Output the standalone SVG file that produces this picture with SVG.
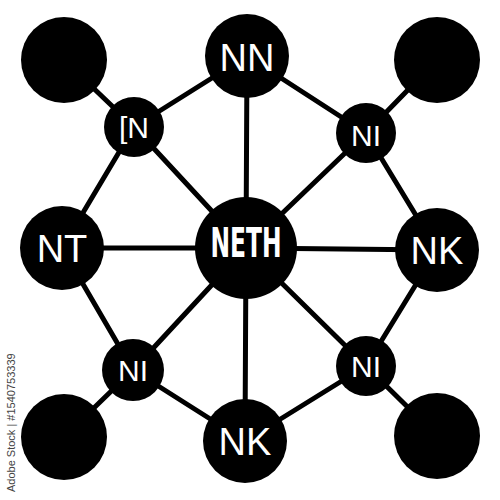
<svg xmlns="http://www.w3.org/2000/svg" width="500" height="500" viewBox="0 0 500 500">
<style>
.edge{stroke:#000;stroke-width:5;stroke-linecap:round}
.node{fill:#000}
.lbl{fill:#fff;font-family:"Liberation Sans",Arial,sans-serif;text-anchor:middle}
.big{font-size:38px}
.small{font-size:30px}
.hub{font-family:"DejaVu Sans Condensed","DejaVu Sans",sans-serif;font-weight:bold;font-stretch:condensed;font-size:40px}
.wm{fill:#444;font-family:"Liberation Sans",Arial,sans-serif;font-size:11px}
</style>
<rect width="500" height="500" fill="#fff"/>
<g id="connectors">
<line class="edge" x1="64" y1="60" x2="134" y2="127"/>
<line class="edge" x1="134" y1="127" x2="247" y2="56"/>
<line class="edge" x1="134" y1="127" x2="62" y2="248"/>
<line class="edge" x1="134" y1="127" x2="246" y2="248"/>
<line class="edge" x1="247" y1="56" x2="246" y2="248"/>
<line class="edge" x1="247" y1="56" x2="366" y2="133"/>
<line class="edge" x1="366" y1="133" x2="437" y2="60"/>
<line class="edge" x1="366" y1="133" x2="246" y2="248"/>
<line class="edge" x1="366" y1="133" x2="437" y2="250"/>
<line class="edge" x1="62" y1="248" x2="246" y2="248"/>
<line class="edge" x1="246" y1="248" x2="437" y2="250"/>
<line class="edge" x1="62" y1="248" x2="133" y2="370"/>
<line class="edge" x1="133" y1="370" x2="246" y2="248"/>
<line class="edge" x1="133" y1="370" x2="64" y2="437"/>
<line class="edge" x1="133" y1="370" x2="245" y2="441"/>
<line class="edge" x1="246" y1="248" x2="245" y2="441"/>
<line class="edge" x1="246" y1="248" x2="366" y2="366"/>
<line class="edge" x1="437" y1="250" x2="366" y2="366"/>
<line class="edge" x1="366" y1="366" x2="245" y2="441"/>
<line class="edge" x1="366" y1="366" x2="437" y2="436"/>
</g>
<g id="corner-tl"><circle class="node" cx="64" cy="60" r="43"/></g>
<g id="corner-tr"><circle class="node" cx="437" cy="60" r="43"/></g>
<g id="corner-bl"><circle class="node" cx="64" cy="437" r="43"/></g>
<g id="corner-br"><circle class="node" cx="437" cy="436" r="43"/></g>
<g id="node-in"><circle class="node" cx="134" cy="127" r="30"/><text class="lbl small" x="134" y="138">[N</text></g>
<g id="node-nn"><circle class="node" cx="247" cy="56" r="42"/><text class="lbl big" x="247" y="71">NN</text></g>
<g id="node-ni-ur"><circle class="node" cx="366" cy="133" r="30"/><text class="lbl small" x="366" y="146">NI</text></g>
<g id="node-nt"><circle class="node" cx="62" cy="248" r="42"/><text class="lbl big" x="62" y="262">NT</text></g>
<g id="node-neth"><circle class="node" cx="246" cy="248" r="51"/><text class="lbl hub" x="246" y="257" textLength="71" lengthAdjust="spacingAndGlyphs">NETH</text></g>
<g id="node-nk-right"><circle class="node" cx="437" cy="250" r="42"/><text class="lbl big" x="437" y="264">NK</text></g>
<g id="node-ni-ll"><circle class="node" cx="133" cy="370" r="31"/><text class="lbl small" x="133" y="381">NI</text></g>
<g id="node-ni-lr"><circle class="node" cx="366" cy="366" r="30"/><text class="lbl small" x="366" y="377">NI</text></g>
<g id="node-nk-bottom"><circle class="node" cx="245" cy="441" r="42"/><text class="lbl big" x="245" y="455">NK</text></g>
<text class="wm" transform="translate(15,492) rotate(-90)">Adobe Stock | #1540753339</text>
</svg>
